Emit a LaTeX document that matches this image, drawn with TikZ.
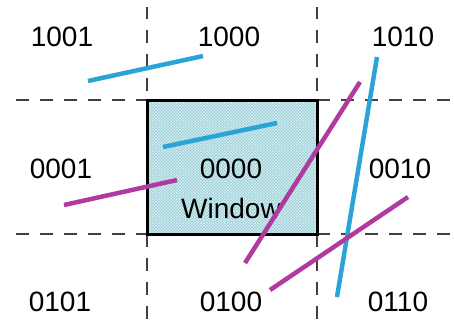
\documentclass[tikz,border=0pt]{standalone}
\usepackage{fontspec}
\setmainfont{Liberation Sans}
\usetikzlibrary{patterns}
\definecolor{clipblue}{RGB}{42,163,214}
\definecolor{clipmag}{RGB}{176,58,160}
\definecolor{winfill}{RGB}{150,206,216}
\tikzset{
    region/.style={font=\fontsize{28}{40}\selectfont, text=black, inner sep=0pt, align=center},
    edge/.style={black!75, line width=1.6pt, dash pattern=on 13pt off 11pt},
    seg/.style={line width=4.5pt},
}
\begin{document}
\begin{tikzpicture}[x=1pt, y=-1pt]
    \useasboundingbox (0,0) rectangle (454,325);
    % Window
    \fill[winfill] (147,100) rectangle (317,234);
    \fill[pattern=crosshatch, pattern color=white!65!winfill] (147,100) rectangle (317,234);
    % Boundary lines
    \draw[edge] (16,100) -- (147,100); \draw[edge] (317,100) -- (454,100);
    \draw[edge] (16,234) -- (147,234); \draw[edge] (317,234) -- (454,234);
    \draw[edge, dash phase=1pt] (147,7) -- (147,100); \draw[edge, dash phase=1pt] (317,7) -- (317,100);
    \draw[edge] (147,234) -- (147,325); \draw[edge] (317,234) -- (317,325);
    \draw[black, line width=3pt] (147,100) rectangle (317,234);
    % Region codes
    \node[region] (r1001) at (62,37) {1001}; \node[region] (r1000) at (229,37) {1000}; \node[region] (r1010) at (403,37) {1010};
    \node[region] (r0001) at (61,169) {0001}; \node[region] (r0000) at (231,189) {0000\\Window}; \node[region] (r0010) at (400,169) {0010};
    \node[region] (r0101) at (60,302) {0101}; \node[region] (r0100) at (231,302) {0100}; \node[region] (r0110) at (398,302) {0110};
    % Line segments
    \draw[seg, clipblue] (88,81) -- (203,56);
    \draw[seg, clipblue] (163,147) -- (277,123);
    \draw[seg, clipblue] (377,57) -- (337,297);
    \draw[seg, clipmag] (64,205) -- (177,180);
    \draw[seg, clipmag] (360,82) -- (245,263);
    \draw[seg, clipmag] (408,197) -- (270,290);
\end{tikzpicture}
\end{document}
